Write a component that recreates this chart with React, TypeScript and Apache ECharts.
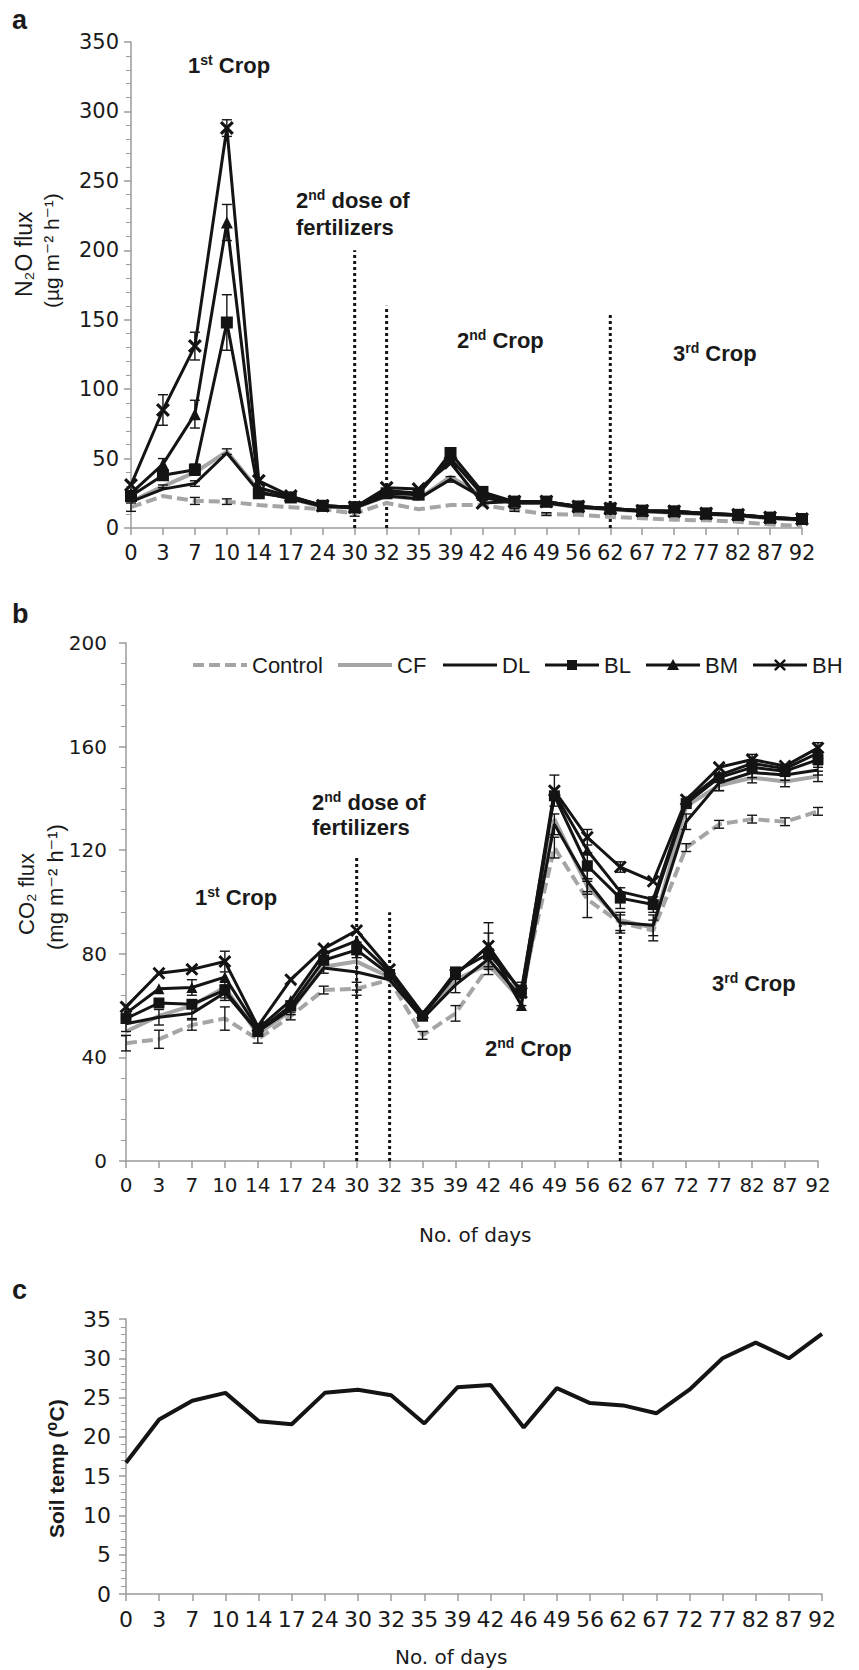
import React, { useEffect, useRef } from "react";
import * as echarts from "echarts";

const _ = null;

const DAYS = ["0", "3", "7", "10", "14", "17", "24", "30", "32", "35", "39", "42", "46", "49", "56", "62", "67", "72", "77", "82", "87", "92"];
const TREATMENTS = ["Control", "CF", "DL", "BL", "BM", "BH"];

// Panel a: N2O flux (µg m-2 h-1)
const N2O_CONTROL = [15, 23, 19.5, 19, 16.5, 15, 13.5, 10.5, 18, 13.5, 16.5, 16.5, 13, 10, 9.5, 8, 7, 6, 5.5, 4.5, 2.5, 1.5];
const N2O_CF = [19, 30, 40, 55, 27, 21, 15.5, 14.5, 23, 21, 37, 23, 18, 18, 15, 13.5, 12, 11, 10, 9, 7, 6];
const N2O_DL = [19, 28, 32, 54, 26, 21, 15.5, 14.5, 23, 21, 35, 22, 18, 18, 15, 13.5, 12, 11, 10, 9, 7, 6];
const N2O_BL = [23, 38, 42, 148, 25, 22, 16, 15, 25, 24, 54, 26, 19, 19, 15.5, 14, 12.5, 12, 10.5, 9.5, 7.5, 6.5];
const N2O_BM = [25, 46, 82, 220, 29, 22.5, 16, 15, 27, 25, 50, 24, 19, 19, 15.5, 14, 12.5, 12, 10.5, 9.5, 7.5, 6.5];
const N2O_BH = [31, 85, 131, 288, 34, 23, 16, 15, 29, 28, 47, 18, 19, 19, 15.5, 14, 12.5, 12, 10.5, 9.5, 7.5, 6.5];

const N2O_ERR_CONTROL = [3, _, 2.5, 2, _, _, _, 2, _, _, _, _, 1, 1, _, _, _, _, _, _, _, _];
const N2O_ERR_CF = [_, 1, _, 2, _, _, _, _, _, _, _, _, _, _, _, _, _, _, _, _, _, _];
const N2O_ERR_DL = [_, _, 2, _, _, _, _, _, _, _, 2, _, _, _, _, _, _, _, _, _, _, _];
const N2O_ERR_BL = [_, _, 4, 20, _, _, _, _, _, _, 3, 2, _, _, _, _, _, _, _, _, _, _];
const N2O_ERR_BM = [_, 4, 10, 13, _, _, _, _, _, _, _, _, _, _, _, _, _, _, _, _, _, _];
const N2O_ERR_BH = [_, 11, 10, 6, _, _, _, _, _, _, _, _, _, _, _, _, _, _, _, _, _, _];

// Panel b: CO2 flux (mg m-2 h-1)
const CO2_CONTROL = [45.5, 47, 52.5, 55, 47, 56, 66, 66.5, 70, 48.5, 57, 75, 66, 121, 101, 92, 89, 121, 130, 132, 131, 135];
const CO2_CF = [50, 56, 60, 67, 49, 58, 75, 77, 71, 55, 70, 76, 62, 132, 106, 93, 90, 137, 145, 148, 146.5, 148.5];
const CO2_DL = [53, 55.5, 57, 65, 50, 58.5, 74.5, 73, 70, 55, 68, 78, 63, 130, 108, 92, 91, 131, 146, 150, 149, 151];
const CO2_BL = [55, 61, 60.5, 66, 50, 60, 77.5, 81.5, 72, 56, 73, 80, 66, 141, 114, 101.5, 99, 138, 148, 152, 150.5, 155];
const CO2_BM = [57, 66.5, 67, 71, 51, 62, 80, 85, 73, 56, 72, 83, 60, 142, 120, 104, 101, 139, 149, 153.5, 151.5, 157.5];
const CO2_BH = [59.5, 72.5, 74, 77, 52, 70, 82, 89, 74, 57, 72, 83, 65, 143, 125, 113.5, 108, 139.5, 152, 155, 152.5, 159.5];

const CO2_ERR_CONTROL = [3, 3.5, 2, 4.5, 1.5, 1.5, 1.5, 2.5, _, 1.5, 3, 3, 3, 4, 7, 3, 4, 1.5, 1.5, 1.5, 1.5, 1.5];
const CO2_ERR_CF = [_, _, _, _, _, _, _, _, _, _, _, _, _, _, 3, _, _, _, 2, 2, 2, 2];
const CO2_ERR_DL = [3, 3, 2, 3, _, 2, 2, 7, _, _, 3, 3, 3, 4, 4, 4, 4, 3, 3, 2, 2, 2];
const CO2_ERR_BL = [_, _, _, 3, _, _, _, 3, _, _, _, _, _, _, 5, 4, 3, _, _, _, _, 3];
const CO2_ERR_BM = [_, _, 3, _, _, _, _, _, _, _, _, 5, _, _, _, _, _, _, _, _, _, _];
const CO2_ERR_BH = [_, _, _, 4, _, _, _, _, _, _, _, 9, _, 6, 3, 2, _, _, _, 2, _, 2];

// Panel c: soil temperature (°C)
const SOIL_TEMP = [16.7, 22.2, 24.6, 25.6, 22.0, 21.6, 25.6, 26.0, 25.3, 21.7, 26.3, 26.6, 21.2, 26.2, 24.3, 24.0, 23.0, 26.0, 30.0, 32.0, 30.0, 33.1];

// Vertical dotted dividers: [day, top value]
const N2O_DIVIDERS: [string, number][] = [["30", 200], ["32", 160], ["62", 155]];
const CO2_DIVIDERS: [string, number][] = [["30", 117], ["32", 96], ["62", 92]];

const N2O_AXIS = { max: 350, interval: 50 };
const CO2_AXIS = { max: 200, interval: 40 };
const TEMP_AXIS = { max: 35, interval: 5 };

// ---------- styling ----------
const AXIS_GREY = "#9b9b9b";
const TEXT = "#1a1a1a";
const BLACK = "#141414";
const GREY = "#a5a5a5";
const ARIAL = "'Liberation Sans', Arial, Helvetica, 'DejaVu Sans', sans-serif";
const WIDE = "'DejaVu Sans', Verdana, sans-serif";
const X_PATH = "path://M0,1.6L1.6,0L5,3.4L8.4,0L10,1.6L6.6,5L10,8.4L8.4,10L5,6.6L1.6,10L0,8.4L3.4,5Z";

const LINE_LOOK: Record<string, any> = {
  Control: { color: GREY, width: 4, type: [11, 5], symbol: "none" },
  CF: { color: GREY, width: 4, type: "solid", symbol: "none" },
  DL: { color: BLACK, width: 3, type: "solid", symbol: "none" },
  BL: { color: BLACK, width: 3, type: "solid", symbol: "rect" },
  BM: { color: BLACK, width: 3, type: "solid", symbol: "triangle" },
  BH: { color: BLACK, width: 3, type: "solid", symbol: X_PATH },
};

function treatmentSeries(axis: number, values: number[][], markerSize: number) {
  return TREATMENTS.map((name, s) => {
    const look = LINE_LOOK[name];
    return {
      name,
      type: "line",
      xAxisIndex: axis,
      yAxisIndex: axis,
      data: values[s],
      symbol: look.symbol,
      symbolSize: name === "BH" ? markerSize + 2 : markerSize,
      showSymbol: look.symbol !== "none",
      color: look.color,
      itemStyle: { color: look.color },
      lineStyle: { color: look.color, width: look.width, type: look.type },
      z: 2 + s * 0.1,
      silent: true,
    };
  });
}

function errorSeries(axis: number, values: number[][], errs: (number | null)[][], cap: number) {
  const data: number[][] = [];
  values.forEach((vals, s) =>
    errs[s].forEach((e, i) => {
      if (e != null) data.push([i, vals[i] - e, vals[i] + e]);
    })
  );
  return {
    type: "custom",
    xAxisIndex: axis,
    yAxisIndex: axis,
    data,
    z: 4,
    silent: true,
    encode: { x: 0, y: [1, 2] },
    renderItem: (_p: any, api: any) => {
      const i = api.value(0);
      const lo = api.coord([i, api.value(1)]);
      const hi = api.coord([i, api.value(2)]);
      const st = { stroke: BLACK, lineWidth: 1.4 };
      return {
        type: "group",
        children: [
          { type: "line", shape: { x1: lo[0], y1: lo[1], x2: hi[0], y2: hi[1] }, style: st },
          { type: "line", shape: { x1: lo[0] - cap, y1: lo[1], x2: lo[0] + cap, y2: lo[1] }, style: st },
          { type: "line", shape: { x1: hi[0] - cap, y1: hi[1], x2: hi[0] + cap, y2: hi[1] }, style: st },
        ],
      };
    },
  };
}

function dividerSeries(axis: number, dividers: [string, number][]) {
  return dividers.map(([day, top]) => ({
    type: "line",
    xAxisIndex: axis,
    yAxisIndex: axis,
    data: [
      [day, 0],
      [day, top],
    ],
    symbol: "none",
    lineStyle: { color: BLACK, width: 3, type: [3, 3] },
    z: 1,
    silent: true,
  }));
}

function xAxis(gridIndex: number, fontFamily: string, fontSize: number, margin: number) {
  return {
    type: "category",
    gridIndex,
    data: DAYS,
    boundaryGap: false,
    axisLine: { lineStyle: { color: AXIS_GREY, width: 1.5 } },
    axisTick: { show: true, length: 7, lineStyle: { color: AXIS_GREY, width: 1.5 } },
    axisLabel: { interval: 0, color: TEXT, fontFamily, fontSize, margin },
    splitLine: { show: false },
  };
}

function yAxis(gridIndex: number, ax: { max: number; interval: number }, fontFamily: string, fontSize: number, margin: number) {
  return {
    type: "value",
    gridIndex,
    min: 0,
    max: ax.max,
    interval: ax.interval,
    axisLine: { show: true, lineStyle: { color: AXIS_GREY, width: 1.5 } },
    axisTick: { show: true, length: 7, lineStyle: { color: AXIS_GREY, width: 1.5 } },
    minorTick: { show: true, splitNumber: 5, length: 5, lineStyle: { color: AXIS_GREY, width: 1 } },
    splitLine: { show: false },
    minorSplitLine: { show: false },
    axisLabel: { color: TEXT, fontFamily, fontSize, margin },
  };
}

// Horizontal annotation with a superscript ordinal (rich text)
function richLabel(x: number, y: number, text: string) {
  const style = { fontSize: 22, fontWeight: "bold", fontFamily: ARIAL, fill: TEXT };
  return {
    type: "text",
    x,
    y,
    silent: true,
    style: {
      text,
      ...style,
      align: "left",
      verticalAlign: "middle",
      lineHeight: 24,
      rich: {
        s: { ...style, fontSize: 14, verticalAlign: "top", lineHeight: 14 },
      },
    },
  };
}

// Rotated title, anchored at its start (bottom end), reading upwards
function vTitle(x: number, yStart: number, text: string, size: number, weight = "normal") {
  return {
    type: "text",
    x,
    y: yStart,
    rotation: Math.PI / 2,
    silent: true,
    style: { text, fontSize: size, fontWeight: weight, fontFamily: ARIAL, fill: TEXT, align: "left", verticalAlign: "middle" },
  };
}

function hText(x: number, y: number, text: string, size: number) {
  return {
    type: "text",
    x,
    y,
    silent: true,
    style: { text, fontSize: size, fontFamily: WIDE, fill: TEXT, align: "left", verticalAlign: "middle" },
  };
}

function legendGraphics() {
  const starts = [193, 338, 443, 545, 646, 753];
  const y = 665;
  const els: any[] = [];
  TREATMENTS.forEach((name, i) => {
    const x = starts[i];
    const look = LINE_LOOK[name];
    els.push({
      type: "line",
      silent: true,
      shape: { x1: x, y1: y, x2: x + 54, y2: y },
      style: { stroke: look.color, lineWidth: look.width, lineDash: Array.isArray(look.type) ? look.type : null },
    });
    const cx = x + 27;
    if (name === "BL") {
      els.push({ type: "rect", silent: true, shape: { x: cx - 5, y: y - 5, width: 10, height: 10 }, style: { fill: BLACK } });
    } else if (name === "BM") {
      els.push({ type: "polygon", silent: true, shape: { points: [[cx, y - 6], [cx + 6, y + 5], [cx - 6, y + 5]] }, style: { fill: BLACK } });
    } else if (name === "BH") {
      const h = 6, t = 1.7;
      els.push({
        type: "polygon",
        silent: true,
        shape: {
          points: [
            [cx - h, y - h + t], [cx - h + t, y - h], [cx, y - t], [cx + h - t, y - h], [cx + h, y - h + t], [cx + t, y],
            [cx + h, y + h - t], [cx + h - t, y + h], [cx, y + t], [cx - h + t, y + h], [cx - h, y + h - t], [cx - t, y],
          ],
        },
        style: { fill: BLACK },
      });
    }
    els.push({
      type: "text",
      x: x + 59,
      y,
      silent: true,
      style: { text: name, fontSize: 22, fontFamily: ARIAL, fill: TEXT, align: "left", verticalAlign: "middle" },
    });
  });
  return els;
}

function buildOption() {
  const n2oValues = [N2O_CONTROL, N2O_CF, N2O_DL, N2O_BL, N2O_BM, N2O_BH];
  const n2oErrs = [N2O_ERR_CONTROL, N2O_ERR_CF, N2O_ERR_DL, N2O_ERR_BL, N2O_ERR_BM, N2O_ERR_BH];
  const co2Values = [CO2_CONTROL, CO2_CF, CO2_DL, CO2_BL, CO2_BM, CO2_BH];
  const co2Errs = [CO2_ERR_CONTROL, CO2_ERR_CF, CO2_ERR_DL, CO2_ERR_BL, CO2_ERR_BM, CO2_ERR_BH];

  const panelLetter = (t: string, x: number, y: number) => ({
    type: "text",
    x,
    y,
    silent: true,
    style: { text: t, fontSize: 27, fontWeight: "bold", fontFamily: ARIAL, fill: TEXT, align: "left", verticalAlign: "middle" },
  });

  const graphic: any[] = [
    panelLetter("a", 12, 20),
    panelLetter("b", 12, 614),
    panelLetter("c", 12, 1290),
    // axis titles
    vTitle(24, 297, "N\u2082O flux", 23),
    vTitle(51, 308, "(\u00b5g m\u207b\u00b2 h\u207b\u00b9)", 21),
    vTitle(26, 935, "CO\u2082 flux", 22),
    vTitle(55, 950, "(mg m\u207b\u00b2 h\u207b\u00b9)", 22),
    vTitle(56, 1538, "Soil temp (\u2070C)", 21, "bold"),
    hText(419, 1235, "No. of days", 20),
    hText(395, 1657, "No. of days", 20),
    // annotations
    richLabel(188, 65, "1{s|st} Crop"),
    richLabel(296, 200, "2{s|nd} dose of"),
    richLabel(296, 227, "fertilizers"),
    richLabel(457, 340, "2{s|nd} Crop"),
    richLabel(673, 353, "3{s|rd} Crop"),
    richLabel(312, 802, "2{s|nd} dose of"),
    richLabel(312, 827, "fertilizers"),
    richLabel(195, 897, "1{s|st} Crop"),
    richLabel(485, 1048, "2{s|nd} Crop"),
    richLabel(712, 983, "3{s|rd} Crop"),
    ...legendGraphics(),
  ];

  const gridBase = { containLabel: false, outerBoundsMode: "none" };

  return {
    animation: false,
    backgroundColor: "#ffffff",
    grid: [
      { ...gridBase, left: 131, top: 42, width: 671, height: 486 },
      { ...gridBase, left: 126, top: 643, width: 692, height: 518 },
      { ...gridBase, left: 126, top: 1319, width: 696, height: 275 },
    ],
    xAxis: [xAxis(0, WIDE, 21, 14), xAxis(1, WIDE, 20, 14), xAxis(2, WIDE, 22, 14)],
    yAxis: [yAxis(0, N2O_AXIS, WIDE, 21, 12), yAxis(1, CO2_AXIS, WIDE, 20, 19), yAxis(2, TEMP_AXIS, WIDE, 22, 15)],
    series: [
      ...dividerSeries(0, N2O_DIVIDERS),
      ...treatmentSeries(0, n2oValues, 12),
      errorSeries(0, n2oValues, n2oErrs, 5),
      ...dividerSeries(1, CO2_DIVIDERS),
      ...treatmentSeries(1, co2Values, 11),
      errorSeries(1, co2Values, co2Errs, 5),
      {
        name: "Soil temp",
        type: "line",
        xAxisIndex: 2,
        yAxisIndex: 2,
        data: SOIL_TEMP,
        symbol: "none",
        lineStyle: { color: BLACK, width: 4 },
        silent: true,
      },
    ],
    graphic,
  };
}

export default function App() {
  const ref = useRef<HTMLDivElement>(null);
  useEffect(() => {
    document.body.style.margin = "0";
    const chart = echarts.init(ref.current!, undefined, { renderer: "svg" });
    chart.setOption(buildOption() as any);
    return () => chart.dispose();
  }, []);
  return <div ref={ref} style={{ width: 859, height: 1670, background: "#fff" }} />;
}
